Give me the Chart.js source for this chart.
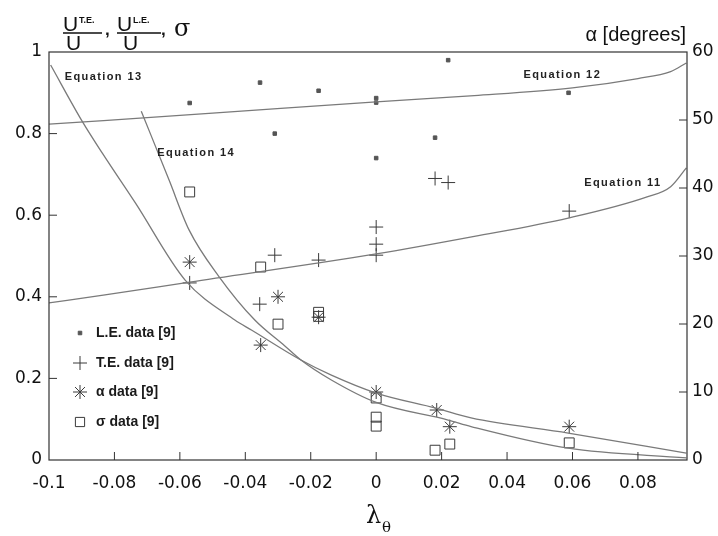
<!DOCTYPE html>
<html>
<head>
<meta charset="utf-8">
<script src="https://cdn.jsdelivr.net/npm/chart.js@4"></script>
<style>
  html, body { margin: 0; padding: 0; background: #fff; }
</style>
</head>
<body>
<canvas id="myChart" width="718" height="536"></canvas>
<script>
// tick labels
const xTicks = [-0.1, -0.08, -0.06, -0.04, -0.02, 0, 0.02, 0.04, 0.06, 0.08];
const xTickLabels = ['-0.1', '-0.08', '-0.06', '-0.04', '-0.02', '0', '0.02', '0.04', '0.06', '0.08'];
const yTicks = [0, 0.2, 0.4, 0.6, 0.8, 1];
const yTickLabels = ['0', '0.2', '0.4', '0.6', '0.8', '1'];

// L.E. data [9]
const leX = [-0.057, -0.0355, -0.031, -0.0176, 0, 0, 0, 0.018, 0.022, 0.0588];
const leY = [0.875, 0.925, 0.80, 0.905, 0.887, 0.876, 0.74, 0.79, 0.98, 0.90];

// T.E. data [9]
const teX = [-0.057, -0.0356, -0.031, -0.0176, 0, 0, 0, 0.018, 0.022, 0.059];
const teY = [0.434, 0.382, 0.502, 0.49, 0.571, 0.529, 0.502, 0.69, 0.68, 0.61];

// alpha data [9] (degrees, right axis)
const alphaX = [-0.057, -0.0353, -0.030, -0.0176, 0, 0.0185, 0.0225, 0.059];
const alphaDeg = [29.1, 16.9, 24.0, 21.0, 10.0, 7.35, 4.9, 4.9];

// sigma data [9]
const sigmaX = [-0.057, -0.0353, -0.030, -0.0176, -0.0176, 0, 0, 0, 0.018, 0.0225, 0.059];
const sigmaY = [0.657, 0.473, 0.333, 0.362, 0.352, 0.152, 0.105, 0.083, 0.024, 0.039, 0.042];

// model curves
const eq11X = [-0.1, -0.0834, -0.057, 0, 0.03, 0.0587, 0.0828, 0.09, 0.0948];
const eq11Y = [0.385, 0.404, 0.436, 0.505, 0.548, 0.593, 0.645, 0.67, 0.716];

const eq12X = [-0.1, -0.05, 0, 0.03, 0.06, 0.08, 0.09, 0.0948];
const eq12Y = [0.823, 0.85, 0.878, 0.893, 0.912, 0.935, 0.952, 0.973];

const eq13X = [-0.0995, -0.0897, -0.0837, -0.0736, -0.0584, -0.0432, -0.038, -0.023, -0.0137, 0, 0.0183, 0.029, 0.0587, 0.0948];
const eq13Y = [0.968, 0.828, 0.752, 0.630, 0.441, 0.343, 0.318, 0.245, 0.208, 0.164, 0.127, 0.103, 0.066, 0.017];

const eq14X = [-0.0718, -0.0633, -0.0572, -0.048, -0.0371, -0.028, -0.023, -0.0137, 0, 0.022, 0.029, 0.0587, 0.0948];
const eq14Y = [0.855, 0.686, 0.564, 0.449, 0.343, 0.28, 0.245, 0.196, 0.141, 0.098, 0.082, 0.029, 0.005];

// curve labels
const eqLabels = ['Equation 13', 'Equation 14', 'Equation 12', 'Equation 11'];
const eqLabelX = [-0.0952, -0.0669, 0.045, 0.0636];
const eqLabelY = [0.939, 0.752, 0.944, 0.679];

const legendNames = ['L.E. data [9]', 'T.E. data [9]', '\u03b1 data [9]', '\u03c3 data [9]'];

const pts = (xs, ys) => xs.map((x, i) => ({x: x, y: ys[i]}));
const markColor = '#3a3a3a';
const lineColor = '#7a7a7a';

const curve = (xs, ys) => ({
  data: pts(xs, ys),
  showLine: true,
  borderColor: lineColor,
  borderWidth: 1.3,
  pointRadius: 0,
  cubicInterpolationMode: 'monotone',
  yAxisID: 'y'
});

const markers = [
  {data: pts(leX, leY), pointStyle: 'rect', pointRadius: 2.5, backgroundColor: '#555', borderColor: '#555', borderWidth: 1, yAxisID: 'y'},
  {data: pts(teX, teY), pointStyle: 'cross', pointRadius: 7, borderColor: markColor, borderWidth: 1, yAxisID: 'y'},
  {data: pts(alphaX, alphaDeg), pointStyle: 'star', pointRadius: 7, borderColor: markColor, borderWidth: 1, yAxisID: 'y2'},
  {data: pts(sigmaX, sigmaY), pointStyle: 'rect', pointRadius: 7, backgroundColor: 'rgba(0,0,0,0)', borderColor: markColor, borderWidth: 1, yAxisID: 'y'}
];

const framePlugin = {
  id: 'frame',
  afterDraw(chart) {
    const ctx = chart.ctx;
    const a = chart.chartArea;
    const sx = chart.scales.x, sy = chart.scales.y, sy2 = chart.scales.y2;
    ctx.save();
    ctx.strokeStyle = '#333';
    ctx.lineWidth = 1.2;
    ctx.strokeRect(a.left, a.top, a.right - a.left, a.bottom - a.top);

    // inward ticks
    ctx.lineWidth = 1;
    ctx.beginPath();
    sx.ticks.forEach(t => {
      if (t.value === -0.1) return;
      const px = sx.getPixelForValue(t.value);
      ctx.moveTo(px, a.bottom); ctx.lineTo(px, a.bottom - 8);
    });
    sy.ticks.forEach(t => {
      if (t.value <= 0 || t.value >= 1) return;
      const py = sy.getPixelForValue(t.value);
      ctx.moveTo(a.left, py); ctx.lineTo(a.left + 8, py);
    });
    sy2.ticks.forEach(t => {
      if (t.value <= 0 || t.value >= 60) return;
      const py = sy2.getPixelForValue(t.value);
      ctx.moveTo(a.right, py); ctx.lineTo(a.right - 8, py);
    });
    ctx.stroke();

    // curve labels
    ctx.fillStyle = '#222';
    ctx.font = 'bold 11px "Liberation Sans"';
    ctx.letterSpacing = '1.4px';
    ctx.textBaseline = 'middle';
    ctx.textAlign = 'left';
    eqLabels.forEach((s, i) => {
      ctx.fillText(s, sx.getPixelForValue(eqLabelX[i]), sy.getPixelForValue(eqLabelY[i]));
    });
    ctx.letterSpacing = '0px';

    // legend inside plot
    const lx = 80, ly = [333, 363, 392, 422];
    markers.forEach((d, i) => {
      ctx.save();
      ctx.strokeStyle = d.borderColor;
      ctx.fillStyle = d.backgroundColor || 'rgba(0,0,0,0)';
      ctx.lineWidth = d.borderWidth;
      const r = i === 0 ? 2.5 : (i === 3 ? 6.5 : 7);
      if (Chart.helpers && Chart.helpers.drawPoint) {
        Chart.helpers.drawPoint(ctx, {pointStyle: d.pointStyle, radius: r, rotation: 0, borderWidth: d.borderWidth}, lx, ly[i]);
      }
      ctx.restore();
      ctx.fillStyle = '#1a1a1a';
      ctx.font = 'bold 14px "Liberation Sans"';
      ctx.textAlign = 'left';
      ctx.textBaseline = 'middle';
      ctx.fillText(legendNames[i], 96, ly[i]);
    });

    // left title: U_T.E./U , U_L.E./U , sigma
    ctx.fillStyle = '#111';
    ctx.textBaseline = 'alphabetic';
    ctx.textAlign = 'left';
    ctx.font = '21px "Liberation Sans"';
    ctx.fillText('U', 63, 31);
    ctx.fillText('U', 66, 50);
    ctx.fillText('U', 117, 31);
    ctx.fillText('U', 123, 50);
    ctx.font = 'bold 9px "Liberation Sans"';
    ctx.fillText('T.E.', 79, 23);
    ctx.fillText('L.E.', 133, 23);
    ctx.font = 'bold 17px "Liberation Sans"';
    ctx.fillText(',', 105, 35);
    ctx.fillText(',', 161, 35);
    ctx.strokeStyle = '#111';
    ctx.lineWidth = 1.5;
    ctx.beginPath();
    ctx.moveTo(63, 33); ctx.lineTo(102, 33);
    ctx.moveTo(117, 33); ctx.lineTo(161, 33);
    ctx.stroke();
    ctx.font = '24px "DejaVu Serif"';
    ctx.fillText('\u03c3', 174, 36);

    // right title
    ctx.textAlign = 'right';
    ctx.font = '20px "Liberation Sans"';
    ctx.fillText('\u03b1 [degrees]', 686, 41);

    // x title
    ctx.textAlign = 'left';
    ctx.font = '24px "DejaVu Serif"';
    ctx.fillText('\u03bb', 366, 523);
    ctx.font = '15px "DejaVu Serif"';
    ctx.fillText('\u03b8', 382, 532);
    ctx.restore();
  }
};

const tickFont = {family: '"DejaVu Sans"', size: 17};

new Chart(document.getElementById('myChart'), {
  type: 'scatter',
  data: {
    datasets: [
      curve(eq11X, eq11Y),
      curve(eq12X, eq12Y),
      curve(eq13X, eq13Y),
      curve(eq14X, eq14Y),
      ...markers
    ]
  },
  options: {
    responsive: false,
    animation: false,
    layout: {padding: {top: 52}},
    plugins: {legend: {display: false}, tooltip: {enabled: false}},
    scales: {
      x: {
        type: 'linear', min: -0.1, max: 0.095,
        grid: {display: false, drawTicks: false},
        border: {display: false},
        afterBuildTicks: s => { s.ticks = xTicks.map(v => ({value: v})); },
        afterFit: s => { s.height = 76; },
        ticks: {callback: (v, i) => xTickLabels[i], font: tickFont, color: '#111', padding: 13, autoSkip: false, maxRotation: 0}
      },
      y: {
        position: 'left', min: 0, max: 1,
        grid: {display: false, drawTicks: false},
        border: {display: false},
        afterBuildTicks: s => { s.ticks = yTicks.map(v => ({value: v})); },
        afterFit: s => { s.width = 49; },
        ticks: {callback: (v, i) => yTickLabels[i], font: tickFont, color: '#111', padding: 7}
      },
      y2: {
        position: 'right', min: 0, max: 60,
        grid: {display: false, drawTicks: false},
        border: {display: false},
        afterFit: s => { s.width = 31; },
        ticks: {stepSize: 10, font: tickFont, color: '#111', padding: 5}
      }
    }
  },
  plugins: [framePlugin]
});
</script>
</body>
</html>
